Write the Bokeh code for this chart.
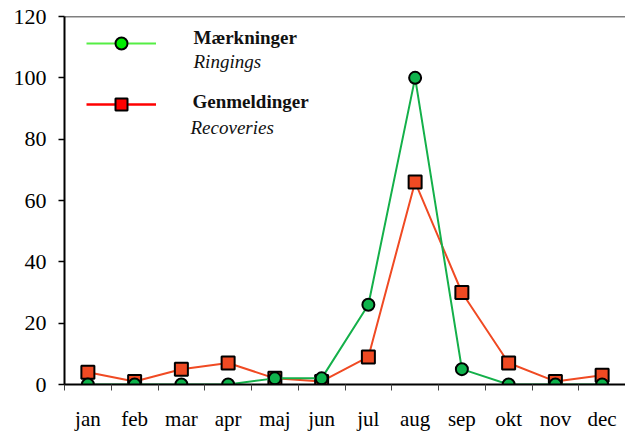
from bokeh.plotting import figure
from bokeh.models import (Range1d, FixedTicker, Span, Legend, LegendItem, Label,
                          ColumnDataSource)
from bokeh.embed import file_html
from bokeh.resources import INLINE

months = ["jan", "feb", "mar", "apr", "maj", "jun", "jul", "aug", "sep", "okt", "nov", "dec"]
ringings = [0, 0, 0, 0, 2, 2, 26, 100, 5, 0, 0, 0]
recoveries = [4, 1, 5, 7, 2, 1, 9, 66, 30, 7, 1, 3]
y_ticks = [0, 20, 40, 60, 80, 100, 120]

FONT = "Liberation Serif"
GREEN = "#14b04a"
GREEN_FILL = "#0fb34c"
RED = "#f04a23"

xs = list(range(len(months)))
src = ColumnDataSource(dict(x=xs, ring=ringings, rec=recoveries))

p = figure(width=625, height=436, output_backend="svg", toolbar_location=None,
           x_range=Range1d(-0.5, len(months) - 0.5), y_range=Range1d(0, 120),
           min_border_left=64, min_border_right=0, min_border_top=16, min_border_bottom=52)
p.outline_line_color = None
p.grid.visible = False
p.background_fill_color = "white"
p.border_fill_color = "white"

# axes
p.yaxis.ticker = FixedTicker(ticks=y_ticks)
p.yaxis.axis_line_width = 2
p.yaxis.axis_line_color = "black"
p.yaxis.major_tick_out = 6
p.yaxis.major_tick_in = 0
p.yaxis.major_tick_line_width = 1.5
p.yaxis.minor_tick_line_color = None
p.yaxis.major_label_text_font = FONT
p.yaxis.major_label_text_font_size = "22px"
p.yaxis.major_label_text_color = "black"
p.yaxis.major_label_standoff = 12

p.xaxis.ticker = FixedTicker(ticks=xs, minor_ticks=[i - 0.5 for i in range(len(months) + 1)])
p.xaxis.major_label_overrides = {i: m for i, m in enumerate(months)}
p.xaxis.axis_line_width = 2
p.xaxis.axis_line_color = "black"
p.xaxis.major_tick_line_color = None
p.xaxis.minor_tick_out = 6
p.xaxis.minor_tick_in = 0
p.xaxis.minor_tick_line_color = "#444444"
p.xaxis.minor_tick_line_width = 1
p.xaxis.major_label_text_font = FONT
p.xaxis.major_label_text_font_size = "21px"
p.xaxis.major_label_text_color = "black"
p.xaxis.major_label_standoff = 16

p.add_layout(Span(location=120, dimension="width", line_color="black", line_width=1.5))

# data
p.line("x", "rec", source=src, line_color=RED, line_width=2)
p.scatter("x", "rec", source=src, marker="square", size=13, fill_color=RED,
          line_color="black", line_width=2)
p.line("x", "ring", source=src, line_color=GREEN, line_width=2)
p.scatter("x", "ring", source=src, marker="circle", size=12, fill_color=GREEN_FILL,
          line_color="black", line_width=2)

# legend samples (renderers without visible points)
nan = float("nan")
blank = ColumnDataSource(dict(x=[nan], y=[nan]))
lg1 = p.line("x", "y", source=blank, line_color="#55ee44", line_width=2)
mg1 = p.scatter("x", "y", source=blank, marker="circle", fill_color="#00ee00",
                line_color="black", line_width=2)
lg2 = p.line("x", "y", source=blank, line_color="#ff0000", line_width=2.5)
mg2 = p.scatter("x", "y", source=blank, marker="square", fill_color="#ff0000",
                line_color="black", line_width=2)
legend = Legend(items=[LegendItem(label=" ", renderers=[lg1, mg1]),
                       LegendItem(label=" ", renderers=[lg2, mg2])],
                location=(22, 265), glyph_width=70, glyph_height=30, spacing=31,
                padding=0, margin=0, border_line_color=None,
                background_fill_alpha=0, label_text_font_size="1px",
                label_standoff=0, label_width=1, label_height=1)
p.add_layout(legend)

for txt, x, y, style in [("Mærkninger", 129, 347, "bold"),
                         ("Ringings", 129, 323, "italic"),
                         ("Genmeldinger", 128, 283, "bold"),
                         ("Recoveries", 126, 257, "italic")]:
    p.add_layout(Label(x=x, y=y, x_units="screen", y_units="screen", text=txt,
                       text_font=FONT, text_font_size="19px", text_font_style=style,
                       text_color="#111111", text_baseline="alphabetic"))

open("out.html", "w").write(file_html(p, INLINE))
